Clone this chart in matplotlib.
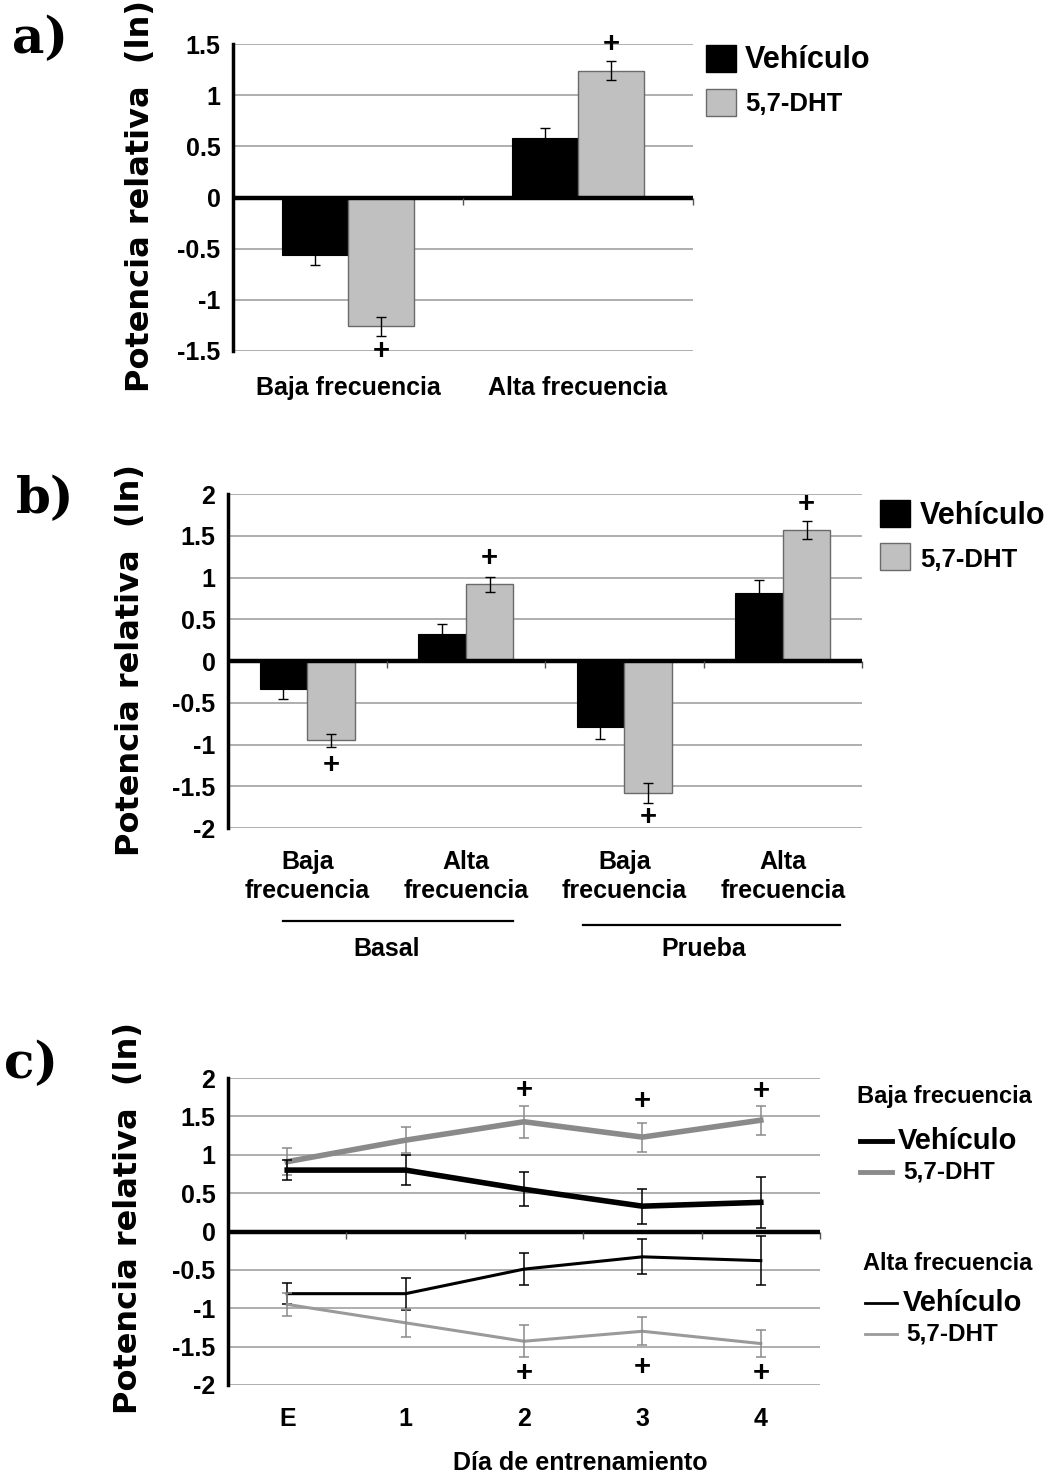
import matplotlib
matplotlib.use('Agg')
import matplotlib.pyplot as plt
import numpy as np
from matplotlib.patches import Rectangle
from matplotlib.lines import Line2D
from matplotlib.transforms import blended_transform_factory

plt.rcParams['font.family'] = ['Liberation Sans', 'DejaVu Sans']
plt.rcParams['font.weight'] = 'bold'

# ---------------- data ----------------
# Panel a
a_categories = ['Baja frecuencia', 'Alta frecuencia']
a_vehiculo = [-0.56, 0.58]
a_vehiculo_err = [0.10, 0.10]
a_dht = [-1.26, 1.24]
a_dht_err = [0.09, 0.09]
a_plus = [-1.50, 1.50]
a_yticks = [-1.5, -1, -0.5, 0, 0.5, 1, 1.5]
a_ytick_labels = ['-1.5', '-1', '-0.5', '0', '0.5', '1', '1.5']

# Panel b
b_categories = ['Baja\nfrecuencia', 'Alta\nfrecuencia', 'Baja\nfrecuencia', 'Alta\nfrecuencia']
b_groups = ['Basal', 'Prueba']
b_vehiculo = [-0.34, 0.32, -0.79, 0.81]
b_vehiculo_err = [0.11, 0.12, 0.15, 0.16]
b_dht = [-0.95, 0.92, -1.58, 1.57]
b_dht_err = [0.08, 0.09, 0.12, 0.11]
b_plus = [-1.25, 1.23, -1.87, 1.88]
b_yticks = [-2, -1.5, -1, -0.5, 0, 0.5, 1, 1.5, 2]
b_ytick_labels = ['-2', '-1.5', '-1', '-0.5', '0', '0.5', '1', '1.5', '2']

# Panel c
c_days = ['E', '1', '2', '3', '4']
c_baja_veh = [0.80, 0.80, 0.55, 0.33, 0.38]
c_baja_veh_err = [0.13, 0.20, 0.22, 0.23, 0.33]
c_baja_dht = [0.91, 1.19, 1.43, 1.23, 1.45]
c_baja_dht_err = [0.18, 0.17, 0.21, 0.19, 0.19]
c_alta_veh = [-0.81, -0.81, -0.49, -0.33, -0.38]
c_alta_veh_err = [0.14, 0.21, 0.21, 0.23, 0.32]
c_alta_dht = [-0.95, -1.19, -1.43, -1.30, -1.46]
c_alta_dht_err = [0.15, 0.18, 0.21, 0.18, 0.18]
c_plus_top = [None, None, 1.84, 1.70, 1.83]
c_plus_bottom = [None, None, -1.84, -1.76, -1.84]
c_yticks = b_yticks
c_ytick_labels = b_ytick_labels

BLACK = '#000000'
GRAY_BAR = '#c0c0c0'
GRAY_EDGE = '#6a6a6a'
GRID = '#a8a8a8'
YLABEL = 'Potencia relativa  (ln)'

fig = plt.figure(figsize=(10.61, 14.77), dpi=100)


def style(ax, yticks, labels, n):
    ax.set_xlim(-0.5, n - 0.5)
    ax.set_ylim(min(yticks), max(yticks))
    ax.set_yticks(yticks)
    ax.set_yticklabels(labels)
    for s in ['top', 'right', 'bottom']:
        ax.spines[s].set_visible(False)
    ax.spines['left'].set_linewidth(2.5)
    ax.grid(axis='y', color=GRID, lw=1.3)
    ax.set_axisbelow(True)
    ax.axhline(0, color='black', lw=3.2, zorder=4)
    bounds = np.arange(n + 1) - 0.5
    ax.plot(bounds[1:], np.zeros(n), ls='none', marker=3, ms=5, mew=1,
            color='#555555', zorder=4, clip_on=False)
    ax.tick_params(axis='y', length=0, pad=9, labelsize=18)
    ax.tick_params(axis='x', length=0, labelsize=18)


def bars(ax, veh, veh_err, dht, dht_err, width):
    x = np.arange(len(veh))
    ax.bar(x - width / 2, veh, width, color=BLACK, edgecolor=BLACK, lw=0.8, zorder=2)
    ax.bar(x + width / 2, dht, width, color=GRAY_BAR, edgecolor=GRAY_EDGE, lw=1.0, zorder=2)
    ax.errorbar(x - width / 2, veh, yerr=veh_err, fmt='none', ecolor='black',
                elinewidth=1, capsize=3.5, capthick=1, zorder=3)
    ax.errorbar(x + width / 2, dht, yerr=dht_err, fmt='none', ecolor='black',
                elinewidth=1, capsize=3.5, capthick=1, zorder=3)
    return x


def bar_legend(x0, yb_black, yb_gray, tx, ty_black, ty_gray, fs1, fs2):
    w, h = 30 / 1061, 27 / 1477
    fig.patches.append(Rectangle((x0, yb_black), w, h, transform=fig.transFigure,
                                 facecolor=BLACK, edgecolor=BLACK, lw=1))
    fig.patches.append(Rectangle((x0, yb_gray), w, h, transform=fig.transFigure,
                                 facecolor=GRAY_BAR, edgecolor=GRAY_EDGE, lw=1))
    fig.text(tx, ty_black, 'Vehículo', fontsize=fs1, fontweight='bold', va='center', ha='left')
    fig.text(tx, ty_gray, '5,7-DHT', fontsize=fs2, fontweight='bold', va='center', ha='left')


ylab_kw = dict(fontsize=23, fontweight='bold', family=['DejaVu Sans'],
               rotation=90, ha='center', va='center')
letter_kw = dict(fontsize=36, fontweight='bold', family=['DejaVu Serif'],
                 ha='left', va='center')
PLUS_FS = 21

# ---------------- panel a ----------------
axa = fig.add_axes([233 / 1061, 1 - 351 / 1477, 460 / 1061, 307 / 1477])
style(axa, a_yticks, a_ytick_labels, len(a_categories))
xa = bars(axa, a_vehiculo, a_vehiculo_err, a_dht, a_dht_err, 0.287)
axa.set_xticks(xa)
axa.set_xticklabels(a_categories)
axa.tick_params(axis='x', pad=18, labelsize=18)
for xi, yp in zip(xa, a_plus):
    axa.text(xi + 0.287 / 2, yp, '+', ha='center', va='center', fontsize=PLUS_FS,
             fontweight='bold', clip_on=False, zorder=5)
bar_legend(706 / 1061, 1 - 72 / 1477, 1 - 116 / 1477, 745 / 1061,
           1 - 60 / 1477, 1 - 104 / 1477, 22, 18.5)
fig.text(140 / 1061, 1 - 196 / 1477, YLABEL, **ylab_kw)
fig.text(12 / 1061, 1 - 40 / 1477, 'a)', **letter_kw)

# ---------------- panel b ----------------
axb = fig.add_axes([228 / 1061, 1 - 828 / 1477, 634 / 1061, 334 / 1477])
style(axb, b_yticks, b_ytick_labels, len(b_categories))
xb = bars(axb, b_vehiculo, b_vehiculo_err, b_dht, b_dht_err, 0.30)
axb.set_xticks(xb)
axb.set_xticklabels(b_categories, linespacing=1.25)
axb.tick_params(axis='x', pad=16, labelsize=18)
for xi, yp in zip(xb, b_plus):
    axb.text(xi + 0.30 / 2, yp, '+', ha='center', va='center', fontsize=PLUS_FS,
             fontweight='bold', clip_on=False, zorder=5)
trb = blended_transform_factory(axb.transData, axb.transAxes)
group_spans = [(-0.653, 0.80, -0.278), (-0.76, 0.86, -0.29)]
for gi, name in enumerate(b_groups):
    c = 2 * gi + 0.5
    lo, hi, yy = group_spans[gi]
    axb.add_line(Line2D([c + lo, c + hi], [yy, yy],
                        transform=trb, color='black', lw=1.6, clip_on=False))
    axb.text(c, -0.362, name, transform=trb, ha='center', va='center',
             fontsize=18, fontweight='bold')
bar_legend(880 / 1061, 1 - 527 / 1477, 1 - 570 / 1477, 920 / 1061,
           1 - 516 / 1477, 1 - 560 / 1477, 22, 18.5)
fig.text(131 / 1061, 1 - 660 / 1477, YLABEL, **ylab_kw)
fig.text(16 / 1061, 1 - 500 / 1477, 'b)', **letter_kw)

# ---------------- panel c ----------------
axc = fig.add_axes([228 / 1061, 1 - 1385 / 1477, 592 / 1061, 307 / 1477])
style(axc, c_yticks, c_ytick_labels, len(c_days))
xc = np.arange(len(c_days))
series = [
    (c_baja_dht, c_baja_dht_err, '#8a8a8a', 4.0, '#8a8a8a'),
    (c_baja_veh, c_baja_veh_err, '#000000', 4.0, '#000000'),
    (c_alta_veh, c_alta_veh_err, '#000000', 2.2, '#000000'),
    (c_alta_dht, c_alta_dht_err, '#9a9a9a', 2.2, '#8a8a8a'),
]
for vals, errs, col, lw, ecol in series:
    axc.plot(xc, vals, color=col, lw=lw, zorder=3, solid_joinstyle='miter')
    axc.errorbar(xc, vals, yerr=errs, fmt='none', ecolor=ecol, elinewidth=1.1,
                 capsize=3.5, capthick=1.1, zorder=3)
for xi, yp in zip(xc, c_plus_top):
    if yp is not None:
        axc.text(xi, yp, '+', ha='center', va='center', fontsize=PLUS_FS, fontweight='bold')
for xi, yp in zip(xc, c_plus_bottom):
    if yp is not None:
        axc.text(xi, yp, '+', ha='center', va='center', fontsize=PLUS_FS, fontweight='bold')
axc.set_xticks(xc)
axc.set_xticklabels(c_days)
axc.tick_params(axis='x', pad=16, labelsize=18)
fig.text(580 / 1061, 1 - 1463 / 1477, 'Día de entrenamiento', fontsize=18,
         fontweight='bold', ha='center', va='center')


def line_legend(tx, ty, title, fs_t, entries):
    fig.text(tx, ty, title, fontsize=fs_t, fontweight='bold', va='center', ha='left')
    for (lx0, lx1, ly, col, lw, lab_x, lab, fs) in entries:
        fig.add_artist(Line2D([lx0, lx1], [ly, ly], transform=fig.transFigure,
                              color=col, lw=lw))
        fig.text(lab_x, ly, lab, fontsize=fs, fontweight='bold', va='center', ha='left')


line_legend(857 / 1061, 1 - 1097 / 1477, 'Baja frecuencia', 17, [
    (860 / 1061, 892 / 1061, 1 - 1141 / 1477, '#000000', 3.5, 898 / 1061, 'Vehículo', 21),
    (860 / 1061, 892 / 1061, 1 - 1172 / 1477, '#8a8a8a', 3.5, 903 / 1061, '5,7-DHT', 17.5),
])
line_legend(863 / 1061, 1 - 1264 / 1477, 'Alta frecuencia', 17, [
    (865 / 1061, 897 / 1061, 1 - 1303 / 1477, '#000000', 2, 903 / 1061, 'Vehículo', 21),
    (865 / 1061, 897 / 1061, 1 - 1334 / 1477, '#9a9a9a', 2, 906 / 1061, '5,7-DHT', 17.5),
])
fig.text(128 / 1061, 1 - 1218 / 1477, YLABEL, **ylab_kw)
fig.text(4 / 1061, 1 - 1065 / 1477, 'c)', **letter_kw)

fig.savefig('out.png', dpi=100)
